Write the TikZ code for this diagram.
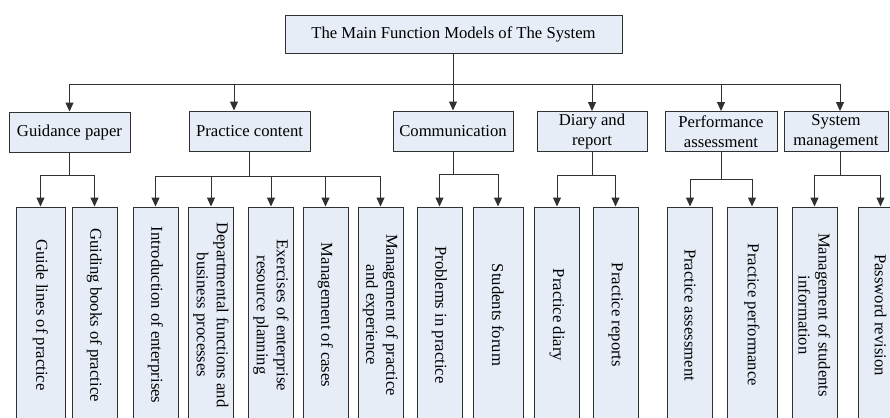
\documentclass[tikz,border=0pt]{standalone}
\usepackage{fontspec}
\setmainfont{Liberation Serif}
\usetikzlibrary{arrows.meta, positioning, calc}
\definecolor{BoxFill}{HTML}{E7EDF7}
\definecolor{LineGray}{HTML}{303030}

\begin{document}
\begin{tikzpicture}[x=0.6pt, y=-0.6pt, line width=0.6pt,
    box/.style={draw=LineGray, fill=BoxFill, align=center, inner sep=1pt,
        font=\fontsize{10}{12}\selectfont},
    modbox/.style={box, minimum height=24pt},
    leafbox/.style={box, rotate=-90, minimum width=129.6pt, minimum height=#1},
    conn/.style={LineGray},
    arr/.style={LineGray, -{Triangle[width=4.8pt, length=5.4pt]}}]
    \path[use as bounding box, clip] (0,0) rectangle (890,417);

    % top box
    \node[box, minimum width=202.2pt, minimum height=22.8pt] (top) at (453.5,34)
        {The Main Function Models of The System};

    % function modules
    \node[modbox, minimum width=72.6pt] (gp) at (69.5,132) {Guidance paper};
    \node[modbox, minimum width=72.6pt] (pc) at (249.5,131) {Practice content};
    \node[modbox, minimum width=72pt] (com) at (453,131) {Communication};
    \node[modbox, minimum width=66pt] (dr) at (592,131.5) {Diary and\\report};
    \node[modbox, minimum width=67.2pt] (pa) at (721,131.5) {Performance\\assessment};
    \node[modbox, minimum width=62.4pt] (sm) at (836,131.5) {System\\management};

    % leaves
    \foreach \name/\x/\w/\txt in {
        l1/40.5/29.4pt/{Guide lines of practice},
        l2/94.5/27pt/{Guiding books of practice},
        l3/155.5/27pt/{Introduction of enterprises},
        l4/211/27pt/{Departmental functions and\\business processes},
        l5/271/27pt/{Exercises of enterprise\\resource planning},
        l6/325.5/27pt/{Management of cases},
        l7/380.5/27pt/{Management of practice\\and experience},
        l8/439.5/27pt/{Problems in practice},
        l9/498/30pt/{Students forum},
        l10/557/27pt/{Practice diary},
        l11/615.5/27pt/{Practice reports},
        l12/690/27pt/{Practice assessment},
        l13/752/30pt/{Practice performance},
        l14/814.5/27pt/{Management of students\\information},
        l15/880.5/27pt/{Password revision}}
        \node[leafbox=\w] (\name) at (\x,315) {\txt};

    % top to modules
    \coordinate (bus) at (0,84);
    \draw[conn] (top.south) -- (top.south |- bus);
    \draw[conn] (gp.north |- bus) -- ($(sm.north |- bus)+(4,0)$);
    \draw[arr] (gp.north |- bus) -- (gp.north);
    \draw[arr] ($(pc.north |- bus)+(-15.5,0)$) -- ($(pc.north)+(-15.5,0)$);
    \draw[arr] (com.north |- bus) -- (com.north);
    \draw[arr] (dr.north |- bus) -- (dr.north);
    \draw[arr] (pa.north |- bus) -- (pa.north);
    \draw[arr] ($(sm.north |- bus)+(4,0)$) -- ($(sm.north)+(4,0)$);

    % modules to leaves
    \foreach \m/\first/\last/\leaves/\y in {
        gp/l1/l2/{l1,l2}/175,
        pc/l3/l7/{l3,l4,l5,l6,l7}/176,
        com/l8/l9/{l8,l9}/174,
        dr/l10/l11/{l10,l11}/175,
        pa/l12/l13/{l12,l13}/179} {
        \coordinate (sub) at (0,\y);
        \draw[conn] (\m.south) -- (\m.south |- sub);
        \draw[conn] (\first |- sub) -- (\last |- sub);
        \foreach \l in \leaves
            \draw[arr] (\l |- sub) -- (\l.west);
    }
    \coordinate (smsub) at (0,175);
    \draw[conn] ($(sm.south)+(4,0)$) -- ($(sm.south |- smsub)+(4,0)$);
    \draw[conn] (l14 |- smsub) -- (l15 |- smsub);
    \draw[arr] (l14 |- smsub) -- (l14.west);
    \draw[arr] (l15 |- smsub) -- (l15.west);
\end{tikzpicture}
\end{document}
